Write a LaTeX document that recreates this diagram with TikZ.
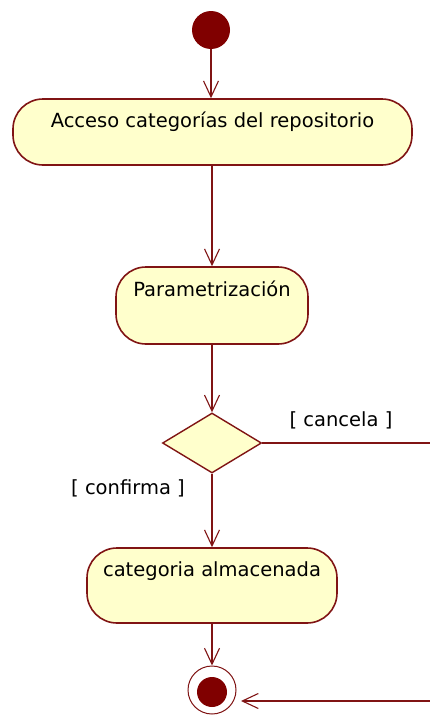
\documentclass[tikz,border=0pt]{standalone}
\usepackage{fontspec}
\setmainfont{DejaVu Sans}
\usetikzlibrary{arrows.meta,shapes.geometric}
\definecolor{umlline}{RGB}{128,20,20}
\definecolor{umlfill}{RGB}{255,255,204}
\definecolor{umldot}{RGB}{128,0,0}
\begin{document}
\begin{tikzpicture}[x=1pt,y=-1pt,
  activity/.style={draw=umlline, fill=umlfill, line width=1.6pt,
    rounded corners=30pt, inner sep=0pt},
  actlabel/.style={font=\fontsize{19.5}{23}\selectfont, inner sep=0pt},
  guard/.style={font=\fontsize{19.5}{23}\selectfont, inner sep=0pt},
  decision/.style={diamond, draw=umlline, fill=umlfill, line width=1.4pt, inner sep=0pt},
  startdot/.style={circle, fill=umldot, minimum size=38pt, inner sep=0pt},
  flow/.style={draw=umlline, line width=1.5pt,
    -{Straight Barb[length=16pt,width=15pt,line width=1.1pt]}}
]
\useasboundingbox (0,0) rectangle (430,715);
\fill[white] (0,0) rectangle (430,715);
\clip (0,0) rectangle (430,715);

% initial node
\node[startdot] (ini) at (211,30) {};

% activities
\node[activity, minimum width=399pt, minimum height=66pt] (a1) at (212.5,132) {};
\node[actlabel] (t1) at ([yshift=-24pt]a1.north) {Acceso categorías del repositorio};

\node[activity, minimum width=192pt, minimum height=77pt] (a2) at (212,305.5) {};
\node[actlabel] (t2) at ([yshift=-23pt]a2.north) {Parametrización};

\node[decision, minimum width=99pt, minimum height=60pt] (d) at (212,443) {};

\node[activity, minimum width=250pt, minimum height=75pt] (a3) at (212,585.5) {};
\node[actlabel] (t3) at ([yshift=-24pt]a3.north) {categoria almacenada};

% final node
\node[circle, draw=umlline, fill=white, line width=1pt, minimum size=48pt, inner sep=0pt] (fin) at (212,690) {};
\node[circle, fill=umldot, minimum size=30pt, inner sep=0pt] (findot) at (212,692) {};
\coordinate (finin) at (241,701);

% guards
\node[guard] (gc) at (341,420) {[ cancela ]};
\node[guard] (gf) at (128,488) {[ confirma ]};

% transitions
\draw[flow] (ini) -- (ini |- a1.north);
\draw[flow] (a2 |- a1.south) -- (a2.north);
\draw[flow] (a2.south) -- (d.north);
\draw[flow] (d.south) -- (a3.north);
\draw[flow] (a3.south) -- (fin.north);
\draw[flow] (d.east) -- ++(170,0) |- (finin);
\end{tikzpicture}
\end{document}
